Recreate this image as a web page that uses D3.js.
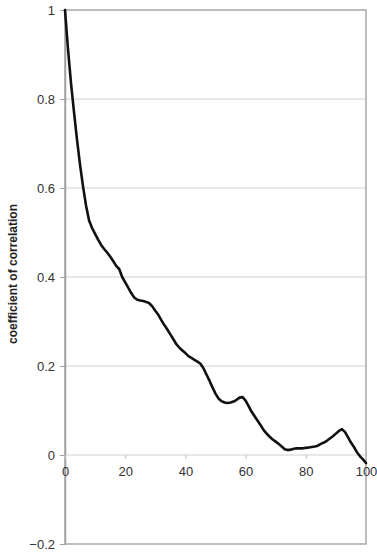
<!DOCTYPE html>
<html>
<head>
<meta charset="utf-8">
<script src="https://cdn.jsdelivr.net/npm/d3@7/dist/d3.min.js"></script>
<style>
  html, body { margin: 0; padding: 0; background: #fff; }
  svg { display: block; }
  text { font-family: "Liberation Sans", Arial, sans-serif; }
</style>
</head>
<body>
<script>
// Lag values (0..100) and the correlation coefficient at each lag
const lags = d3.range(0, 101);
const coefficients = [
  1.000, 0.912, 0.835, 0.770, 0.708, 0.652, 0.603, 0.560, 0.527, 0.510,
  0.497, 0.484, 0.472, 0.463, 0.455, 0.446, 0.436, 0.425, 0.418, 0.400,
  0.388, 0.376, 0.364, 0.354, 0.349, 0.347, 0.346, 0.344, 0.341, 0.334,
  0.324, 0.315, 0.303, 0.292, 0.282, 0.271, 0.260, 0.249, 0.241, 0.235,
  0.229, 0.222, 0.218, 0.214, 0.210, 0.205, 0.195, 0.181, 0.167, 0.152,
  0.138, 0.127, 0.121, 0.118, 0.117, 0.118, 0.120, 0.124, 0.129, 0.130,
  0.122, 0.110, 0.097, 0.087, 0.077, 0.067, 0.056, 0.048, 0.041, 0.035,
  0.030, 0.025, 0.019, 0.013, 0.011, 0.012, 0.014, 0.015, 0.015, 0.015,
  0.016, 0.017, 0.018, 0.019, 0.021, 0.025, 0.028, 0.032, 0.037, 0.042,
  0.048, 0.054, 0.058, 0.052, 0.040, 0.028, 0.018, 0.006, -0.003, -0.010,
  -0.018
];
const xTicks = [0, 20, 40, 60, 80, 100];
const yTicks = [-0.2, 0, 0.2, 0.4, 0.6, 0.8, 1];
const yTitle = "coefficient of correlation";

const width = 377, height = 554;
const margin = { top: 10, right: 11, bottom: 10, left: 65 };

const svg = d3.select("body").append("svg")
  .attr("width", width)
  .attr("height", height);

const x = d3.scaleLinear().domain([0, 100]).range([margin.left, width - margin.right]);
const y = d3.scaleLinear().domain([-0.2, 1]).range([height - margin.bottom, margin.top]);

// horizontal gridlines
svg.append("g")
  .selectAll("line")
  .data(yTicks.filter(d => d > -0.2 && d < 1))
  .join("line")
  .attr("x1", x(0)).attr("x2", x(100))
  .attr("y1", d => y(d)).attr("y2", d => y(d))
  .attr("stroke", "#d0d0d0")
  .attr("stroke-width", 1);

// plot frame
svg.append("rect")
  .attr("x", x(0)).attr("y", y(1))
  .attr("width", x(100) - x(0))
  .attr("height", y(-0.2) - y(1))
  .attr("fill", "none")
  .attr("stroke", "#a8a8a8")
  .attr("stroke-width", 1.5);

// y axis on the left edge
const yAxis = d3.axisLeft(y)
  .tickValues(yTicks)
  .tickFormat(d => d3.format("")(+d.toFixed(1)))
  .tickSizeInner(5)
  .tickSizeOuter(0)
  .tickPadding(5);

const gy = svg.append("g")
  .attr("transform", `translate(${x(0)},0)`)
  .call(yAxis);
gy.select(".domain").attr("stroke", "#a0a0a0").attr("stroke-width", 1.5);
gy.selectAll(".tick line").attr("stroke", "#a0a0a0");
gy.selectAll(".tick text")
  .attr("fill", "#333")
  .style("font-size", "13px")
  .style("font-family", "'Liberation Sans', Arial, sans-serif");

// x axis along the zero line
const xAxis = d3.axisBottom(x)
  .tickValues(xTicks)
  .tickSizeInner(4)
  .tickSizeOuter(0)
  .tickPadding(8);

const gx = svg.append("g")
  .attr("transform", `translate(0,${y(0)})`)
  .call(xAxis);
gx.select(".domain").remove();
gx.selectAll(".tick line").attr("stroke", "#c0c0c0");
gx.selectAll(".tick text")
  .attr("fill", "#333")
  .style("font-size", "13px")
  .style("font-family", "'Liberation Sans', Arial, sans-serif");

// correlation curve
const line = d3.line()
  .x((d, i) => x(lags[i]))
  .y(d => y(d))
  .curve(d3.curveLinear);

svg.append("path")
  .datum(coefficients)
  .attr("d", line)
  .attr("fill", "none")
  .attr("stroke", "#111")
  .attr("stroke-width", 2.6)
  .attr("stroke-linejoin", "round")
  .attr("stroke-linecap", "round");

// y axis title
svg.append("text")
  .attr("transform", `translate(13,274) rotate(-90)`)
  .attr("text-anchor", "middle")
  .attr("dominant-baseline", "central")
  .attr("fill", "#222")
  .style("font-size", "12px")
  .style("font-weight", "bold")
  .text(yTitle);
</script>
</body>
</html>
